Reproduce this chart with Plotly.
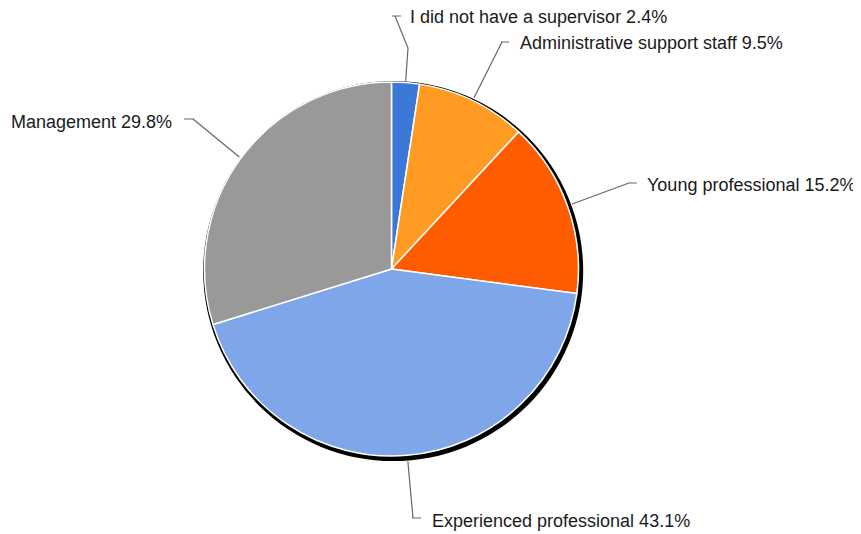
import math
import plotly.graph_objects as go

labels = ["I did not have a supervisor", "Administrative support staff", "Young professional",
          "Experienced professional", "Management"]
values = [2.4, 9.5, 15.2, 43.1, 29.8]
colors = ["#3c78d8", "#ff9a22", "#ff5c00", "#7ea6e8", "#999999"]

OFF = 8  # page body margin in the browser
W, H = 861 - OFF, 534 - OFF
CX, CY, R = 391.5 - OFF, 269 - OFF, 187

# label layout (pixel positions of text anchor, elbow and tick), in page pixels
label_pos = [
    dict(tx=408, ty=17, anchor="left", pts=[(408, 48), (395, 16)], tick=((392, 16), (401, 16))),
    dict(tx=518, ty=43, anchor="left", pts=[(502, 42)], tick=((501, 42), (509, 42))),
    dict(tx=645, ty=185, anchor="left", pts=[(629, 183)], tick=((628, 183), (637, 183))),
    dict(tx=430, ty=521, anchor="left", pts=[(413, 518)], tick=((412, 518), (421, 518))),
    dict(tx=174, ty=122, anchor="right", pts=[(193, 119)], tick=((184, 119), (194, 119))),
]
edge_r = [R + 1, R + 3, R + 5, R + 6, R + 2]

def px(x, y):
    return x / W, 1 - y / H

def pg(x, y):
    return px(x - OFF, y - OFF)

fig = go.Figure()
fig.add_trace(go.Pie(
    labels=labels, values=values, sort=False, direction="clockwise", rotation=0,
    marker=dict(colors=colors, line=dict(color="white", width=1.5)),
    textinfo="none", hoverinfo="label+percent", showlegend=False,
    domain=dict(x=[(CX - R) / W, (CX + R) / W], y=[(H - CY - R) / H, (H - CY + R) / H]),
))

shapes = []
# dark outline / shadow
e, dx, dy = 3.0, 1.7, 2.1
x0, y0 = px(CX - R - e + dx, CY - R - e + dy)
x1, y1 = px(CX + R + e + dx, CY + R + e + dy)
shapes.append(dict(type="circle", xref="paper", yref="paper", x0=x0, y0=y1, x1=x1, y1=y0,
                   fillcolor="black", line=dict(width=0), layer="below"))

annotations = []
total = sum(values)
cum = 0
for i, v in enumerate(values):
    mid = (cum + v / 2) / total * 2 * math.pi
    cum += v
    ex = CX + edge_r[i] * math.sin(mid)
    ey = CY - edge_r[i] * math.cos(mid)
    lp = label_pos[i]
    path = "M %f,%f" % px(ex, ey)
    for (x, y) in lp["pts"]:
        path += " L %f,%f" % pg(x, y)
    (a, b), (c, d) = lp["tick"]
    path += " M %f,%f L %f,%f" % (*pg(a, b), *pg(c, d))
    shapes.append(dict(type="path", xref="paper", yref="paper", path=path,
                       line=dict(color="#666666", width=1.2)))
    ax, ay = pg(lp["tx"], lp["ty"])
    pct = v / total * 100
    annotations.append(dict(
        x=ax, y=ay, xref="paper", yref="paper", xanchor=lp["anchor"], yanchor="middle",
        text="%s %.1f%%" % (labels[i], pct), showarrow=False,
        font=dict(family="Liberation Sans, Arial, sans-serif", size=18, color="#1a1a1a"),
    ))

fig.update_layout(
    width=W, height=H, margin=dict(l=0, r=0, t=0, b=0),
    paper_bgcolor="white", plot_bgcolor="white",
    shapes=shapes, annotations=annotations,
)
fig.write_html("out.html")
